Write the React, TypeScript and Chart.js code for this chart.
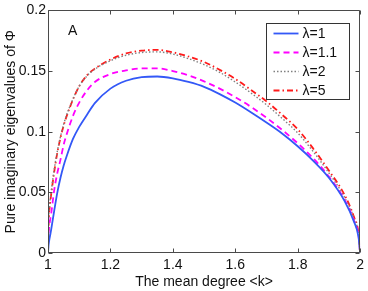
import React, { useEffect, useRef } from 'react';
import { Chart, registerables } from 'chart.js';

Chart.register(...registerables);

// mean degree <k>
const kValues = [1, 1.002, 1.005, 1.01, 1.02, 1.03, 1.04, 1.05, 1.06, 1.08, 1.1, 1.125, 1.15, 1.2, 1.25, 1.3, 1.35, 1.4, 1.45, 1.5, 1.55, 1.6, 1.65, 1.7, 1.75, 1.8, 1.85, 1.9, 1.95, 1.98, 1.995, 2];

const lambda1 = [0, 0.007, 0.012, 0.019, 0.035, 0.050, 0.062, 0.072, 0.080, 0.094, 0.104, 0.114, 0.1235, 0.1355, 0.142, 0.145, 0.1455, 0.144, 0.141, 0.137, 0.131, 0.124, 0.116, 0.1075, 0.0985, 0.088, 0.076, 0.062, 0.043, 0.026, 0.013, 0];
const lambda1_1 = [0, 0.016, 0.024, 0.032, 0.052, 0.066, 0.077, 0.089, 0.098, 0.113, 0.124, 0.134, 0.141, 0.1475, 0.1505, 0.1522, 0.1522, 0.150, 0.1465, 0.1415, 0.1355, 0.1285, 0.1205, 0.1115, 0.1015, 0.0905, 0.078, 0.063, 0.044, 0.027, 0.014, 0];
const lambda2 = [0, 0.027, 0.039, 0.050, 0.069, 0.084, 0.096, 0.106, 0.114, 0.127, 0.1375, 0.146, 0.1515, 0.1585, 0.163, 0.1653, 0.1658, 0.164, 0.1602, 0.1553, 0.149, 0.141, 0.132, 0.1222, 0.111, 0.099, 0.0835, 0.066, 0.046, 0.029, 0.015, 0];
const lambda5 = [0, 0.025, 0.037, 0.048, 0.067, 0.083, 0.095, 0.105, 0.113, 0.1265, 0.1375, 0.1465, 0.152, 0.1595, 0.1645, 0.1668, 0.1675, 0.1655, 0.162, 0.1575, 0.151, 0.1435, 0.1345, 0.125, 0.114, 0.102, 0.086, 0.068, 0.048, 0.030, 0.016, 0];

const seriesLabels = ['λ=1', 'λ=1.1', 'λ=2', 'λ=5'];
const xTickValues = [1, 1.2, 1.4, 1.6, 1.8, 2];
const xTickLabels = ['1', '1.2', '1.4', '1.6', '1.8', '2'];
const yTickValues = [0, 0.05, 0.1, 0.15, 0.2];
const yTickLabels = ['0', '0.05', '0.1', '0.15', '0.2'];
const xTitle = 'The mean degree <k>';
const yTitle = 'Pure imaginary eigenvalues of Φ';
const panelLabel = 'A';

const FONT = '"Liberation Sans", Arial, Helvetica, sans-serif';

const toPoints = (ys: number[]) => kValues.map((k, i) => ({ x: k, y: ys[i] }));

const framePlugin = {
  id: 'frameAndLegend',
  afterDatasetsDraw(chart: any) {
    const { ctx, chartArea, scales } = chart;
    const { left, right, top, bottom } = chartArea;
    const L = Math.round(left) + 0.5;
    const R = Math.round(right) - 0.5;
    const T = Math.round(top) + 0.5;
    const B = Math.round(bottom) - 0.5;
    ctx.save();
    ctx.setLineDash([]);
    ctx.strokeStyle = '#4a4a4a';
    ctx.lineWidth = 1;
    ctx.beginPath();
    ctx.rect(L, T, R - L, B - T);
    // inward ticks
    const tl = 4;
    xTickValues.forEach((v) => {
      const px = Math.round(scales.x.getPixelForValue(v)) + 0.5;
      ctx.moveTo(px, B);
      ctx.lineTo(px, B - tl);
      ctx.moveTo(px, T);
      ctx.lineTo(px, T + tl);
    });
    yTickValues.forEach((v) => {
      const py = Math.round(scales.y.getPixelForValue(v)) + 0.5;
      ctx.moveTo(L, py);
      ctx.lineTo(L + tl, py);
      ctx.moveTo(R, py);
      ctx.lineTo(R - tl, py);
    });
    ctx.stroke();

    // panel label
    ctx.fillStyle = '#111';
    ctx.font = `14px ${FONT}`;
    ctx.textBaseline = 'alphabetic';
    ctx.textAlign = 'left';
    ctx.fillText(panelLabel, left + 20, top + 25);

    // legend box
    const bw = 83;
    const bh = 76;
    const bx = Math.round(right) - 11 - bw + 0.5;
    const by = Math.round(top) + 13 + 0.5;
    ctx.fillStyle = '#ffffff';
    ctx.fillRect(bx, by, bw, bh);
    ctx.strokeStyle = '#333333';
    ctx.lineWidth = 1;
    ctx.strokeRect(bx, by, bw, bh);
    chart.data.datasets.forEach((ds: any, i: number) => {
      const y = by + 10 + i * 19;
      ctx.save();
      ctx.strokeStyle = ds.borderColor;
      ctx.lineWidth = ds.borderWidth;
      ctx.setLineDash(ds.borderDash || []);
      ctx.beginPath();
      ctx.moveTo(bx + 7, y);
      ctx.lineTo(bx + 32, y);
      ctx.stroke();
      ctx.restore();
      ctx.fillStyle = '#111';
      ctx.font = `14px ${FONT}`;
      ctx.textBaseline = 'middle';
      ctx.textAlign = 'left';
      ctx.fillText(ds.label, bx + 36, y + 0.5);
    });
    ctx.restore();
  },
};

export default function App() {
  const canvasRef = useRef<HTMLCanvasElement | null>(null);

  useEffect(() => {
    document.body.style.margin = '0';
    const canvas = canvasRef.current;
    if (!canvas) return;
    const chart = new Chart(canvas, {
      type: 'line',
      data: {
        datasets: [
          {
            label: seriesLabels[0],
            data: toPoints(lambda1),
            borderColor: '#3358f7',
            borderWidth: 1.8,
            borderDash: [],
          },
          {
            label: seriesLabels[1],
            data: toPoints(lambda1_1),
            borderColor: '#ff00ff',
            borderWidth: 1.8,
            borderDash: [6, 4],
          },
          {
            label: seriesLabels[2],
            data: toPoints(lambda2),
            borderColor: '#808080',
            borderWidth: 1.4,
            borderDash: [1.5, 2],
          },
          {
            label: seriesLabels[3],
            data: toPoints(lambda5),
            borderColor: '#ff1a1a',
            borderWidth: 1.8,
            borderDash: [6, 3, 1.5, 3],
          },
        ],
      },
      options: {
        animation: false,
        responsive: false,
        devicePixelRatio: 1,
        parsing: false as any,
        elements: {
          point: { radius: 0, hoverRadius: 0 },
          line: { cubicInterpolationMode: 'monotone', fill: false },
        },
        layout: { padding: { top: 10, right: 7, left: 0, bottom: 0 } },
        plugins: {
          legend: { display: false },
          tooltip: { enabled: false },
        },
        scales: {
          x: {
            type: 'linear',
            min: 1,
            max: 2,
            grid: { display: false, drawTicks: false },
            border: { display: false },
            afterBuildTicks: (scale: any) => {
              scale.ticks = xTickValues.map((v) => ({ value: v }));
            },
            afterFit: (scale: any) => {
              scale.height = 38;
            },
            ticks: {
              autoSkip: false,
              maxRotation: 0,
              padding: 4,
              color: '#111',
              font: { family: FONT, size: 14 },
              callback: (_v: any, i: number) => xTickLabels[i],
            },
            title: {
              display: true,
              text: xTitle,
              color: '#111',
              padding: 0,
              font: { family: FONT, size: 14 },
            },
          },
          y: {
            type: 'linear',
            min: 0,
            max: 0.2,
            grid: { display: false, drawTicks: false },
            border: { display: false },
            afterBuildTicks: (scale: any) => {
              scale.ticks = yTickValues.map((v) => ({ value: v }));
            },
            afterFit: (scale: any) => {
              scale.width = 48;
            },
            ticks: {
              autoSkip: false,
              padding: 2,
              color: '#111',
              font: { family: FONT, size: 14 },
              callback: (_v: any, i: number) => yTickLabels[i],
            },
            title: {
              display: true,
              text: yTitle,
              color: '#111',
              padding: { top: 3, bottom: 0 },
              font: { family: FONT, size: 14 },
            },
          },
        },
      },
      plugins: [framePlugin],
    });
    return () => chart.destroy();
  }, []);

  return (
    <div style={{ position: 'absolute', left: 0, top: 0, width: 368, height: 291 }}>
      <canvas ref={canvasRef} width={368} height={291} style={{ display: 'block', width: 368, height: 291 }} />
    </div>
  );
}
